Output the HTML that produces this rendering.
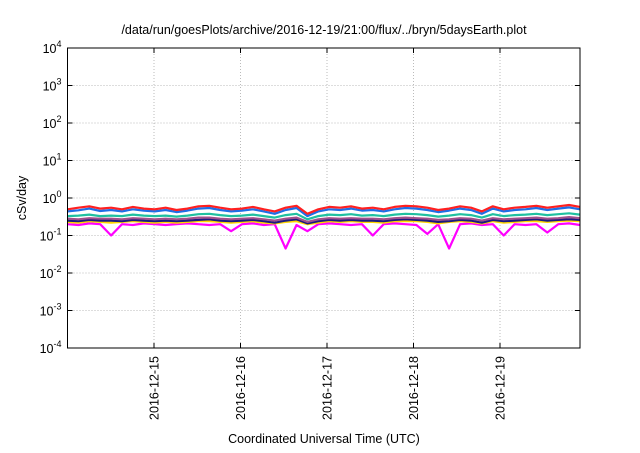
<!DOCTYPE html>
<html><head><meta charset="utf-8"><style>
body{margin:0;background:#fff;}
svg{font-family:"Liberation Sans",sans-serif;}
</style></head><body>
<svg id="chart" width="640" height="448">
<text x="324" y="34" text-anchor="middle" font-size="12.5">/data/run/goesPlots/archive/2016-12-19/21:00/flux/../bryn/5daysEarth.plot</text>
<text x="324" y="443" text-anchor="middle" font-size="12.5">Coordinated Universal Time (UTC)</text>
<text transform="translate(26,198) rotate(-90)" text-anchor="middle" font-size="12.5">cSv/day</text>
<g id="grid"></g><g id="series"></g><g id="axes"></g>
</svg>
<script>
const yExps=[-4,-3,-2,-1,0,1,2,3,4];
const xTickLabels=["2016-12-15","2016-12-16","2016-12-17","2016-12-18","2016-12-19"];
const xTickDays=[1,2,3,4,5];
const seriesColors=["#ff00ff","#ffd700","#1a1a80","#a0508c","#20c0a0","#1e6ee6","#ff2020"];
const seriesNames=["magenta","yellow","navy","purple","teal","blue","red"];
const sMagenta=[0.2,0.19,0.21,0.2,0.1,0.2,0.19,0.21,0.2,0.19,0.2,0.21,0.2,0.19,0.2,0.13,0.2,0.21,0.19,0.2,0.045,0.19,0.13,0.2,0.21,0.2,0.19,0.2,0.1,0.2,0.21,0.2,0.19,0.11,0.2,0.045,0.2,0.21,0.19,0.2,0.1,0.2,0.19,0.2,0.12,0.2,0.21,0.19];
const sYellow=[0.23,0.22,0.24,0.23,0.22,0.23,0.24,0.23,0.22,0.23,0.22,0.23,0.24,0.24,0.23,0.22,0.23,0.24,0.22,0.21,0.23,0.24,0.2,0.22,0.24,0.23,0.24,0.23,0.23,0.22,0.24,0.24,0.24,0.23,0.21,0.23,0.24,0.23,0.21,0.24,0.22,0.23,0.24,0.24,0.23,0.24,0.25,0.24];
const sNavy=[0.25,0.24,0.26,0.25,0.25,0.24,0.26,0.25,0.24,0.25,0.24,0.25,0.26,0.27,0.25,0.24,0.25,0.26,0.24,0.22,0.25,0.27,0.21,0.24,0.26,0.25,0.26,0.25,0.25,0.24,0.26,0.27,0.26,0.25,0.23,0.24,0.26,0.25,0.22,0.26,0.24,0.25,0.26,0.27,0.25,0.26,0.27,0.26];
const sPurple=[0.28,0.27,0.29,0.28,0.28,0.27,0.29,0.28,0.27,0.28,0.27,0.28,0.3,0.3,0.28,0.27,0.28,0.29,0.27,0.25,0.28,0.3,0.23,0.27,0.29,0.28,0.29,0.28,0.28,0.27,0.29,0.3,0.29,0.28,0.26,0.27,0.29,0.28,0.25,0.29,0.27,0.28,0.29,0.3,0.28,0.29,0.31,0.29];
const sTeal=[0.33,0.34,0.36,0.33,0.34,0.33,0.36,0.34,0.33,0.34,0.32,0.34,0.37,0.38,0.35,0.33,0.34,0.36,0.33,0.3,0.35,0.38,0.27,0.33,0.36,0.35,0.37,0.34,0.35,0.33,0.36,0.38,0.37,0.35,0.32,0.34,0.37,0.35,0.3,0.37,0.33,0.35,0.36,0.38,0.35,0.37,0.39,0.36];
const sBlue=[0.44,0.47,0.52,0.45,0.48,0.44,0.5,0.46,0.44,0.48,0.42,0.46,0.52,0.54,0.48,0.44,0.46,0.5,0.44,0.38,0.48,0.54,0.33,0.44,0.5,0.48,0.52,0.46,0.48,0.44,0.5,0.54,0.52,0.48,0.42,0.46,0.52,0.48,0.38,0.52,0.44,0.48,0.5,0.54,0.48,0.52,0.56,0.5];
const sRed=[0.5,0.55,0.6,0.52,0.55,0.5,0.58,0.52,0.5,0.55,0.48,0.52,0.6,0.62,0.55,0.5,0.52,0.58,0.5,0.44,0.55,0.62,0.38,0.5,0.58,0.55,0.6,0.52,0.55,0.5,0.58,0.62,0.6,0.55,0.48,0.52,0.6,0.55,0.44,0.6,0.5,0.55,0.58,0.62,0.55,0.6,0.65,0.58];
const allSeries=[sMagenta,sYellow,sNavy,sPurple,sTeal,sBlue,sRed];
const X0=67.5,X1=580,Y0=48,Y1=348,DAYPX=86.5,TOTALDAYS=(580-67.5)/86.5;
const ns="http://www.w3.org/2000/svg";
function xs(d){return X0+d*DAYPX;}
function ys(v){return Y1-(Math.log10(v)+4)*(Y1-Y0)/8;}
function mk(tag,attrs,parent){const e=document.createElementNS(ns,tag);for(const k in attrs)e.setAttribute(k,attrs[k]);parent.appendChild(e);return e;}
const grid=document.getElementById('grid'),axes=document.getElementById('axes'),ser=document.getElementById('series');
yExps.forEach(p=>{const y=ys(Math.pow(10,p));
 if(p>-4&&p<4){const g=mk('line',{x1:X0,x2:X1,y1:y,y2:y,stroke:'#bbb','stroke-dasharray':'1,2'},grid);
 
 }
 const t=mk('text',{x:X0-6,y:y+5,'text-anchor':'end','font-size':'12.5'},axes);
 
 
 t.innerHTML='10<tspan dy="-6" font-size="9">'+p+'</tspan>';
 mk('line',{x1:X0,x2:X0+5,y1:y,y2:y,stroke:'#000'},axes);
 mk('line',{x1:X1,x2:X1-5,y1:y,y2:y,stroke:'#000'},axes);
});
xTickDays.forEach((d,i)=>{const x=xs(d);
 const g=mk('line',{x1:x,x2:x,y1:Y0,y2:Y1,stroke:'#bbb','stroke-dasharray':'1,2'},grid);
 
 
 mk('line',{x1:x,x2:x,y1:Y1,y2:Y1-5,stroke:'#000'},axes);
 mk('line',{x1:x,x2:x,y1:Y0,y2:Y0+5,stroke:'#000'},axes);
 const t=mk('text',{transform:`translate(${x+4.5},${Y1+8}) rotate(-90)`,'text-anchor':'end','font-size':'12.5'},axes);
 
 
 t.textContent=xTickLabels[i];
});
const fr=mk('rect',{x:X0,y:Y0,width:X1-X0,height:Y1-Y0,fill:'none',stroke:'#000','stroke-width':1},axes);


allSeries.forEach((s,i)=>{const step=TOTALDAYS/(s.length-1);
 const pts=s.map((v,j)=>xs(j*step).toFixed(1)+','+ys(v).toFixed(1)).join(' ');
 const pl=mk('polyline',{points:pts,fill:'none',stroke:seriesColors[i],'stroke-width':2.2,'stroke-linejoin':'round'},ser);
 
 
});
</script>
</body></html>
